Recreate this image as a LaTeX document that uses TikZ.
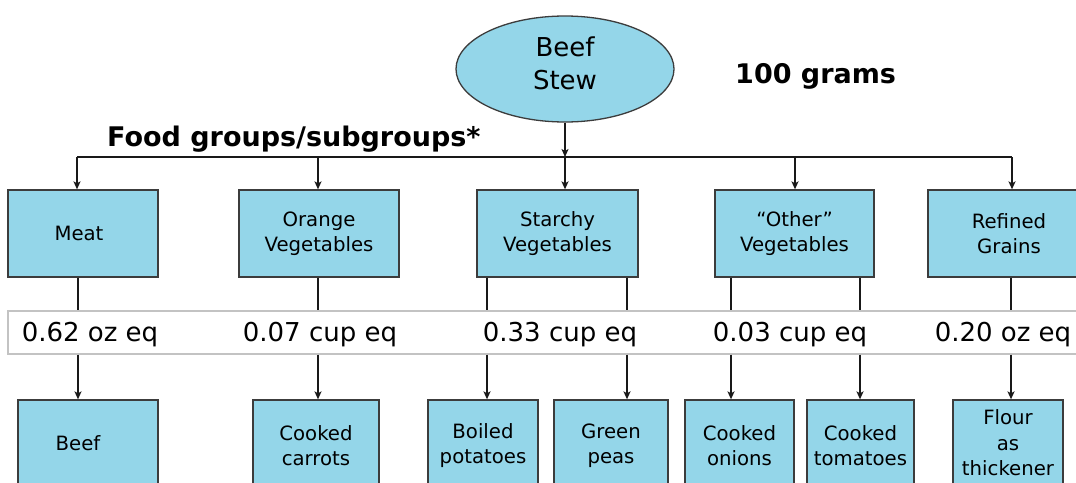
\documentclass[tikz,border=0pt]{standalone}
\usepackage{fontspec}
\setmainfont{DejaVu Sans}
\usetikzlibrary{shapes.geometric,arrows.meta}
\definecolor{boxfill}{RGB}{148,214,233}
\definecolor{boxline}{RGB}{60,60,60}
\definecolor{bandline}{RGB}{195,195,195}
\tikzset{
  conn/.style={line width=1.8pt, draw=black!90},
  arr/.style={conn, -{Stealth[length=8pt,width=7pt,inset=2pt]}},
  bus/.style={line width=2.6pt, draw=black!90},
  grp/.style={draw=boxline, line width=1.3pt, fill=boxfill, minimum height=87pt, inner sep=0pt,
     align=center, font=\fontsize{19.7}{25.5}\selectfont},
  item/.style={grp, minimum height=86pt},
  amount/.style={font=\fontsize{26}{30}\selectfont, inner sep=0pt},
  heading/.style={font=\fontsize{27}{30}\selectfont\bfseries, inner sep=0pt}
}
\begin{document}
\begin{tikzpicture}[x=1pt,y=-1pt]
\useasboundingbox (0,0) rectangle (1076,482);
\begin{scope}
\clip (0,0) rectangle (1076,482);
% root
\node[ellipse, draw=boxline, line width=1.3pt, fill=boxfill, minimum width=218pt, minimum height=106pt,
      inner sep=0pt, align=center, font=\fontsize{26}{33}\selectfont] (stew) at (565,69)
      {Beef\\Stew\rule[-11pt]{0pt}{1pt}};
\node[heading, anchor=west] (grams) at (735,76) {100 grams};
\node[heading, anchor=west] (fg) at (107,139) {Food groups/subgroups*};
% bus
\coordinate (b1) at (77,157);
\coordinate (b2) at (318,157);
\coordinate (b3) at (565,157);
\coordinate (b4) at (795,157);
\coordinate (b5) at (1012,157);
% top group boxes
\node[grp, minimum width=150pt] (meat) at (83,233.5) {Meat\hspace{8pt}};
\node[grp, minimum width=160pt] (orange) at (319,233.5) {Orange\\Vegetables};
\node[grp, minimum width=161pt] (starchy) at (557.5,233.5) {Starchy\\Vegetables};
\node[grp, minimum width=159pt] (other) at (794.5,233.5) {``Other''\\Vegetables};
\node[grp, minimum width=162pt] (refined) at (1009,233.5) {Refined\\Grains};
\draw[bus] (b1) -- (b5);
\draw[arr] (stew.south) -- (b3);
\foreach \b/\n in {b1/meat,b2/orange,b3/starchy,b4/other,b5/refined}
  \draw[arr] (\b) -- (\b |- \n.north);
% amounts band
\node[draw=bandline, line width=1.2pt, fill=white, minimum width=1082pt, minimum height=43pt, inner sep=0pt] (band) at (549,332.5) {};
\node[amount] (a1) at (90,335) {0.62 oz eq};
\node[amount] (a2) at (320,335) {0.07 cup eq};
\node[amount] (a3) at (560,335) {0.33 cup eq};
\node[amount] (a4) at (790,335) {0.03 cup eq};
\node[amount] (a5) at (1003,335) {0.20 oz eq};
% bottom item boxes
\node[item, minimum width=140pt] (beef) at (88,443) {Beef\hspace{20pt}};
\node[item, minimum width=126pt] (carrots) at (316,443) {\rule{0pt}{20pt}Cooked\\carrots};
\node[item, minimum width=110pt] (potatoes) at (483,443) {\rule{0pt}{20pt}Boiled\\potatoes};
\node[item, minimum width=114pt] (peas) at (611,443) {\rule{0pt}{20pt}Green\\peas};
\node[item, minimum width=109pt] (onions) at (739.5,443) {\rule{0pt}{20pt}Cooked\\onions};
\node[item, minimum width=107pt] (tomatoes) at (860.5,443) {\rule{0pt}{20pt}Cooked\\tomatoes};
\node[item, minimum width=110pt] (flour) at (1008,443) {Flour\\as\\thickener};
% columns
\coordinate (c1) at (78,0);
\coordinate (c2) at (318,0);
\coordinate (c3) at (487,0);
\coordinate (c4) at (627,0);
\coordinate (c5) at (731,0);
\coordinate (c6) at (860,0);
\coordinate (c7) at (1011,0);
\foreach \c/\top/\bot in {c1/meat/beef,c2/orange/carrots,c3/starchy/potatoes,c4/starchy/peas,
                         c5/other/onions,c6/other/tomatoes,c7/refined/flour}{
  \draw[conn] (\c |- \top.south) -- (\c |- band.north);
  \draw[arr] (\c |- band.south) -- (\c |- \bot.north);
}
\end{scope}
\end{tikzpicture}
\end{document}
